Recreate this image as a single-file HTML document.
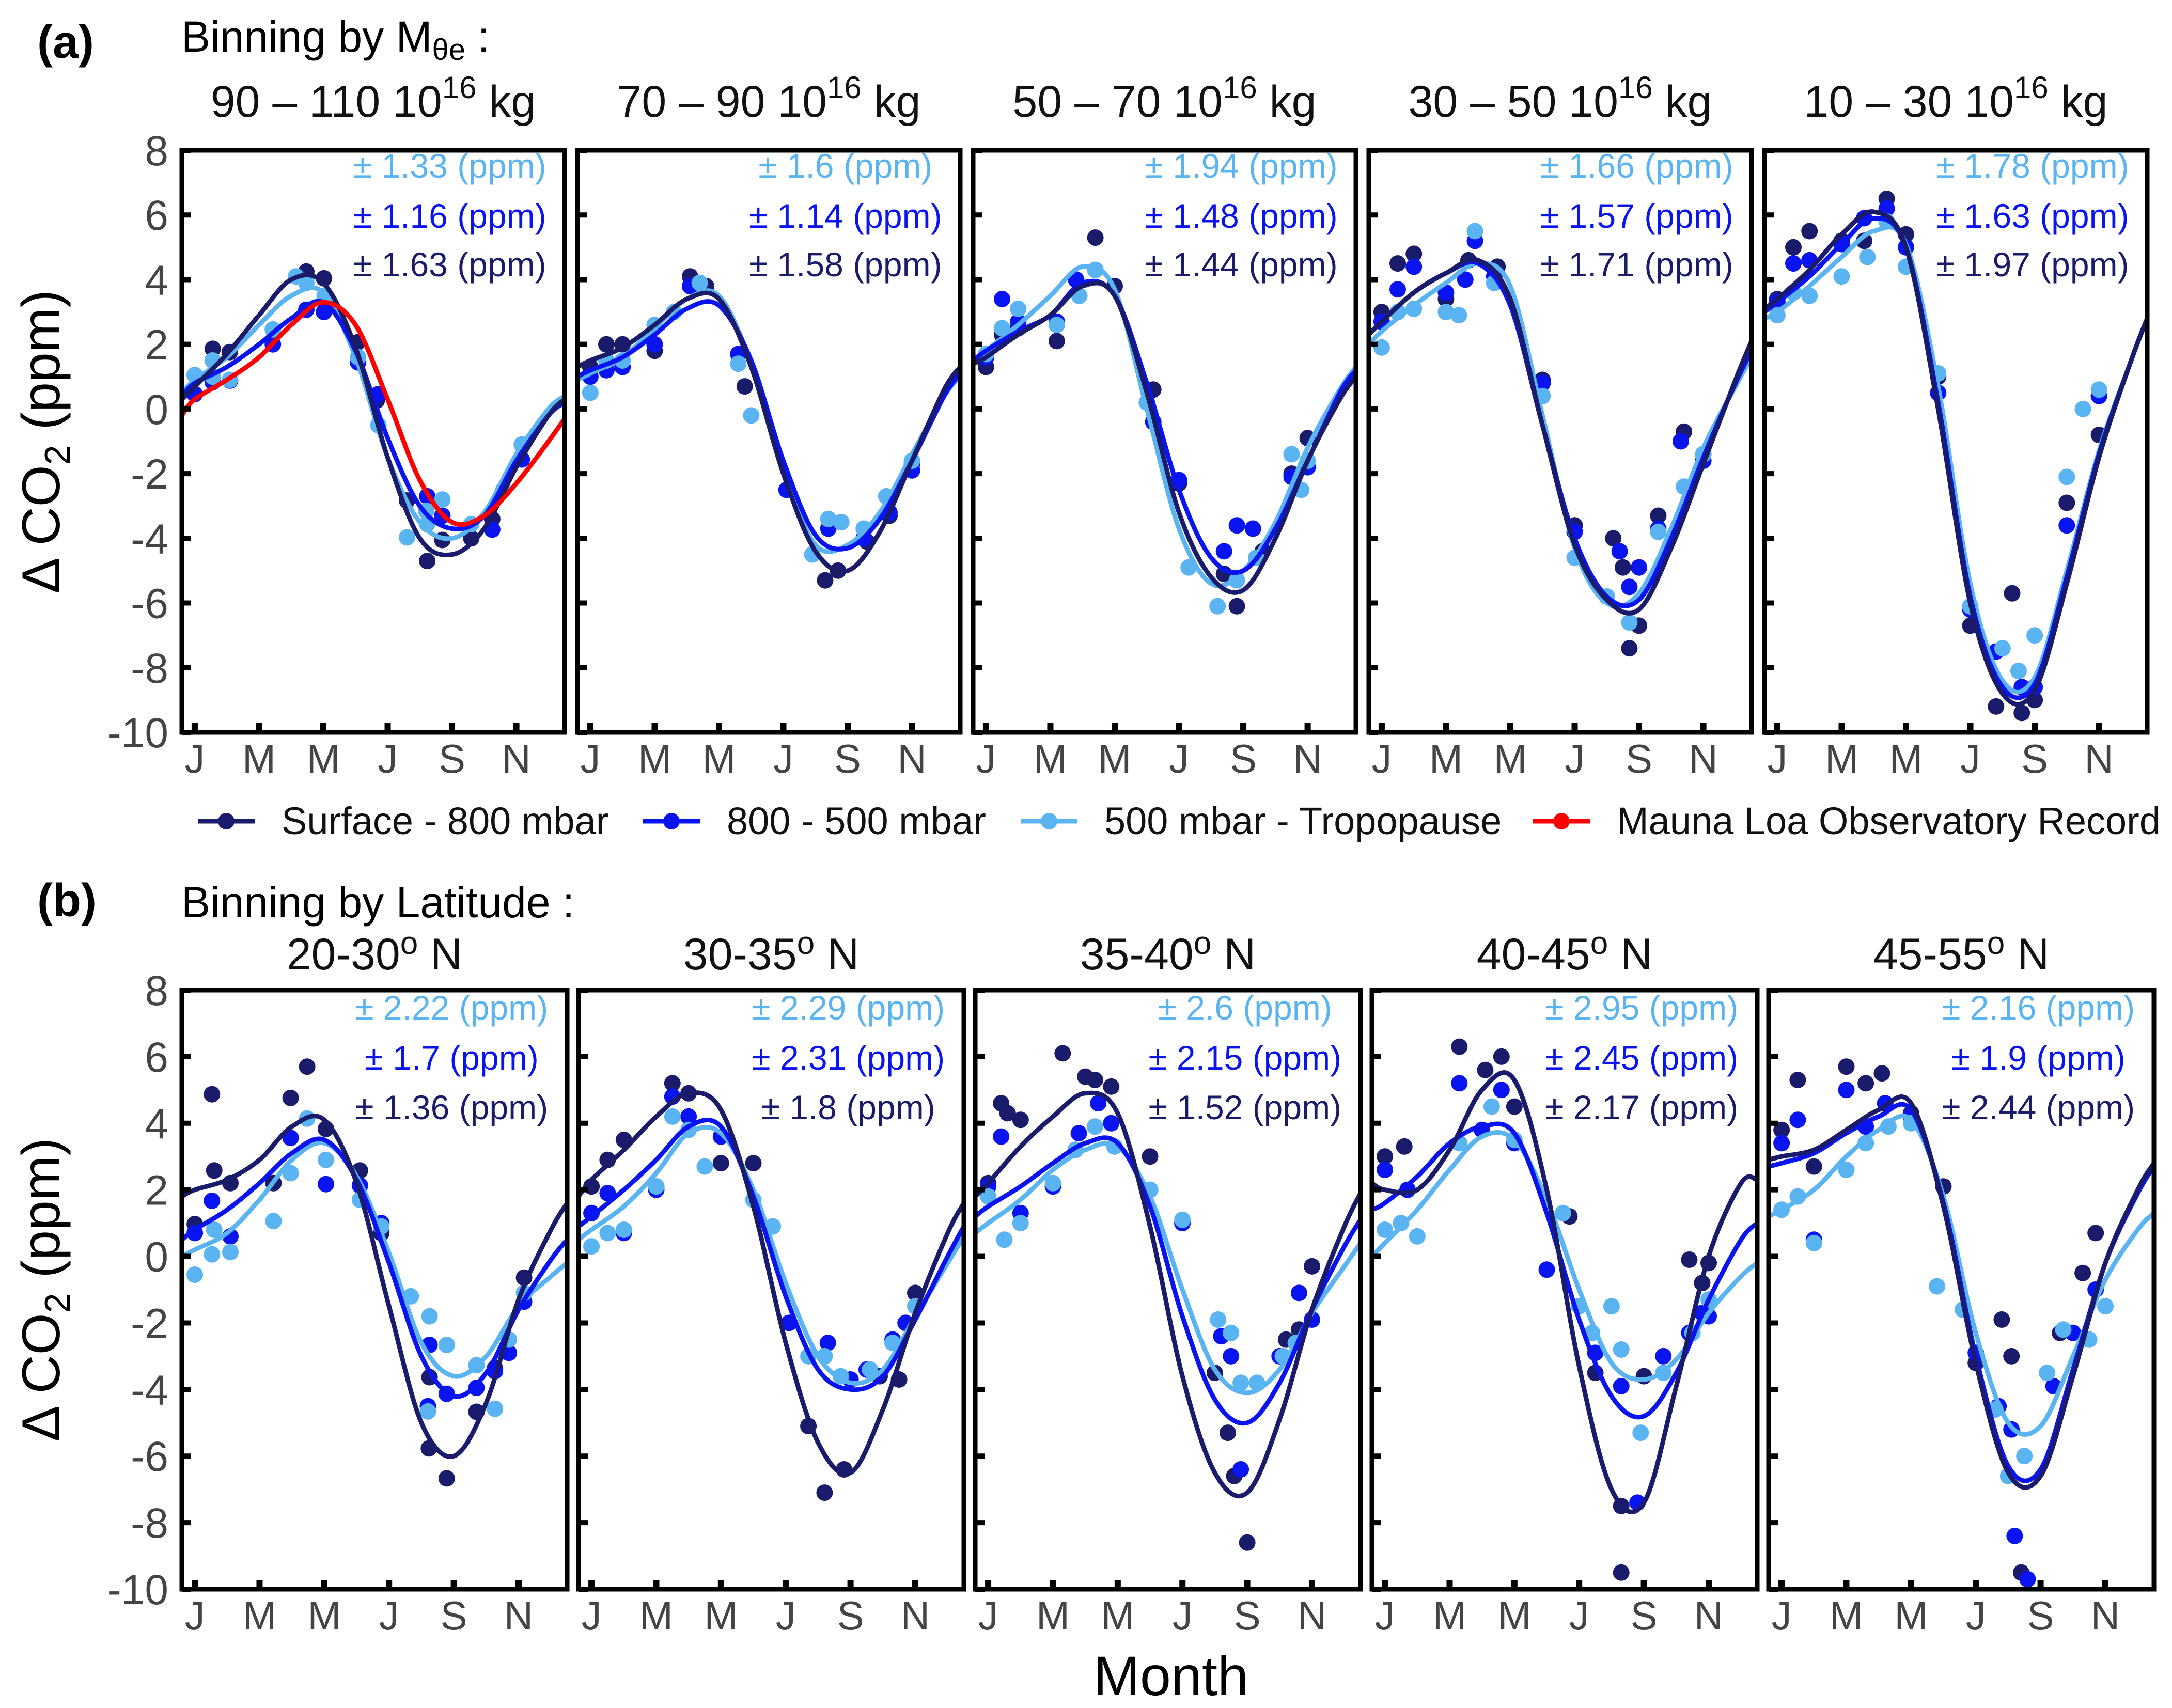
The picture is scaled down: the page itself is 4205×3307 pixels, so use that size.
<!DOCTYPE html>
<html><head><meta charset="utf-8">
<style>
html,body{margin:0;padding:0;background:#fff;}
svg{display:block;font-family:"Liberation Sans",Arial,sans-serif;}
</style></head>
<body>
<svg id="chart" width="4205" height="3307" viewBox="0 0 4205 3307" xmlns="http://www.w3.org/2000/svg">
<rect x="0" y="0" width="4205" height="3307" fill="#fff"/>
<g id="texts">
<text x="72" y="112" font-size="90" font-weight="bold" fill="#000">(a)</text>
<text x="351" y="100" font-size="84" fill="#000">Binning by M<tspan font-size="58" dy="16">θe</tspan><tspan dy="-16"> :</tspan></text>
<text x="72" y="1774" font-size="90" font-weight="bold" fill="#000">(b)</text>
<text x="351" y="1776" font-size="84" fill="#000">Binning by Latitude :</text>
<text transform="translate(115,855) rotate(-90)" text-anchor="middle" font-size="104" fill="#000">Δ CO<tspan font-size="70" dy="20">2</tspan><tspan dy="-20"> (ppm)</tspan></text>
<text transform="translate(115,2497) rotate(-90)" text-anchor="middle" font-size="104" fill="#000">Δ CO<tspan font-size="70" dy="20">2</tspan><tspan dy="-20"> (ppm)</tspan></text>
<text x="2267" y="3282" text-anchor="middle" font-size="108" fill="#000">Month</text>
</g>
<g id="legend"></g>
<g id="panels"></g>
</svg>
<script>
// ---------- data ----------
const curveMonths = [0.6,1,2,3,4,5,6,7,8,9,10,11,12,12.5];
const monthTicks = [1,3,5,7,9,11];
const monthLabels = ["J","M","M","J","S","N"];
const yTicks = [8,6,4,2,0,-2,-4,-6,-8,-10];
const seriesNames = ["Surface - 800 mbar","800 - 500 mbar","500 mbar - Tropopause","Mauna Loa Observatory Record"];
const titlesA = ["90 – 110","70 – 90","50 – 70","30 – 50","10 – 30"];
const titlesB = ["20-30","30-35","35-40","40-45","45-55"];
// uncertainties: [light, blue, dark]
const errA = [[1.33,1.16,1.63],[1.6,1.14,1.58],[1.94,1.48,1.44],[1.66,1.57,1.71],[1.78,1.63,1.97]];
const errB = [[2.22,1.7,1.36],[2.29,2.31,1.8],[2.6,2.15,1.52],[2.95,2.45,2.17],[2.16,1.9,2.44]];

// curves (values at curveMonths): dark, blue, light
const a1Dark  = [0.3,0.7,1.7,2.9,4.0,3.9,1.9,-1.5,-4.0,-4.5,-3.7,-1.8,-0.2,0.3];
const a1Blue  = [0.4,0.8,1.3,2.0,2.8,3.3,1.8,-0.9,-3.0,-3.7,-3.3,-1.6,-0.2,0.2];
const a1Light = [0.5,0.9,1.6,2.6,3.5,3.6,1.6,-1.5,-3.5,-4.0,-3.2,-1.4,0.0,0.4];
const a1Red   = [-0.2,0.3,0.9,1.6,2.6,3.3,2.6,0.3,-2.2,-3.5,-3.3,-2.3,-1.0,-0.3];
const a2Dark  = [1.3,1.5,1.9,2.6,3.4,3.4,1.3,-2.0,-4.4,-5.0,-3.8,-1.6,0.6,1.3];
const a2Blue  = [1.0,1.2,1.6,2.3,3.1,3.2,1.5,-1.6,-3.9,-4.3,-3.4,-1.6,0.4,1.1];
const a2Light = [0.9,1.1,1.6,2.5,3.4,3.5,1.4,-1.9,-4.2,-4.2,-3.2,-1.4,0.4,1.0];
const a3Dark  = [1.4,1.6,2.3,2.9,3.8,3.5,0.5,-3.2,-5.2,-5.6,-4.0,-1.6,0.3,1.0];
const a3Blue  = [1.5,1.8,2.4,2.9,3.9,3.5,0.8,-2.5,-4.6,-5.0,-3.7,-1.6,0.5,1.2];
const a3Light = [1.5,1.8,2.6,3.5,4.4,3.7,0.0,-3.7,-5.4,-5.0,-3.5,-1.2,0.6,1.3];
const a4Dark  = [2.3,2.7,3.6,4.2,4.6,3.4,-0.5,-4.2,-5.9,-6.2,-4.3,-1.7,0.9,2.1];
const a4Blue  = [2.3,2.7,3.6,4.2,4.5,3.2,-0.5,-4.0,-5.8,-5.9,-4.0,-1.5,0.8,1.8];
const a4Light = [2.0,2.4,3.2,3.9,4.5,3.8,-0.2,-4.3,-6.0,-5.7,-3.7,-1.2,0.7,1.6];
const a5Dark  = [3.1,3.4,4.3,5.4,6.1,5.0,0.0,-6.0,-8.8,-8.7,-5.4,-1.5,1.5,2.8];
const a5Blue  = [3.0,3.3,4.1,5.1,5.9,5.0,0.2,-5.8,-8.6,-8.5,-5.2,-1.4,1.5,2.8];
const a5Light = [2.8,3.0,3.8,4.7,5.5,5.1,0.7,-5.4,-8.4,-8.3,-5.0,-1.3,1.5,2.8];
const b1Dark  = [1.8,2.0,2.3,2.9,3.9,4.1,2.2,-1.5,-5.0,-6.0,-4.4,-1.3,0.8,1.6];
const b1Blue  = [0.5,0.8,1.4,2.2,3.1,3.5,2.3,-0.2,-3.0,-4.2,-3.5,-1.6,-0.1,0.5];
const b1Light = [0.0,0.2,0.7,1.7,2.9,3.4,2.4,0.1,-2.6,-3.6,-3.0,-1.5,-0.6,-0.2];
const b2Dark  = [1.8,2.3,3.2,4.2,4.9,4.4,1.5,-2.6,-5.6,-6.5,-4.6,-1.7,0.7,1.6];
const b2Blue  = [0.9,1.2,2.0,2.9,3.9,3.9,1.8,-1.2,-3.4,-4.0,-3.6,-1.9,0.0,0.9];
const b2Light = [0.5,0.8,1.5,2.5,3.7,3.7,2.0,-0.8,-3.0,-3.8,-3.4,-1.8,-0.2,0.6];
const b3Dark  = [1.8,2.2,3.3,4.2,4.9,4.3,0.9,-3.6,-6.5,-7.1,-4.9,-1.6,0.9,1.9];
const b3Blue  = [1.2,1.5,2.1,2.8,3.4,3.4,1.5,-1.8,-4.3,-5.0,-3.8,-1.6,0.3,1.1];
const b3Light = [0.7,1.0,1.7,2.6,3.2,3.3,1.8,-1.0,-3.4,-4.1,-3.4,-1.7,-0.3,0.4];
const b4Dark  = [2.2,2.0,2.0,3.2,5.0,5.3,2.0,-3.3,-7.0,-7.4,-3.9,0.0,2.2,2.3];
const b4Blue  = [1.4,1.6,2.4,3.4,3.9,3.7,1.3,-1.9,-4.2,-4.8,-3.5,-1.3,0.5,1.0];
const b4Light = [0.0,0.4,1.4,2.6,3.6,3.5,1.7,-1.0,-3.2,-3.7,-3.1,-1.7,-0.6,-0.2];
const b5Dark  = [2.9,3.0,3.2,3.8,4.4,4.6,1.5,-3.2,-6.5,-6.6,-3.6,-0.2,2.0,2.8];
const b5Blue  = [2.7,2.8,3.1,3.7,4.2,4.4,1.6,-3.0,-6.3,-6.4,-3.4,-0.2,1.9,2.7];
const b5Light = [1.2,1.4,2.0,3.0,3.8,4.1,1.8,-2.3,-5.0,-5.1,-3.0,-0.7,0.8,1.3];

// points: [month, value]
const a1DarkPts  = [[1.56,1.86],[2.09,1.76],[4.47,4.25],[5.02,4.04],[6.06,2.06],[6.66,0.26],[7.6,-2.83],[8.23,-4.7],[8.7,-4.05],[9.6,-4.0],[10.25,-3.4]];
const a1BluePts  = [[1.0,0.46],[1.56,0.83],[2.1,0.88],[3.43,2.0],[4.47,3.07],[5.02,3.0],[6.08,1.44],[6.71,0.46],[8.23,-2.7],[8.7,-3.3],[10.25,-3.73],[11.17,-1.56]];
const a1LightPts = [[1.0,1.05],[1.56,1.5],[1.56,1.0],[2.09,0.9],[3.43,2.46],[4.15,4.1],[4.47,3.9],[5.04,3.5],[6.08,1.6],[6.71,-0.5],[7.6,-3.97],[8.2,-3.15],[8.23,-3.56],[8.7,-2.8],[9.6,-3.56],[10.6,-2.5],[11.17,-1.1]];
const a2DarkPts  = [[1.0,1.3],[1.5,2.0],[2.0,2.0],[3.0,1.8],[4.1,4.1],[4.6,3.8],[5.8,0.7],[8.3,-5.3],[8.7,-5.0],[9.6,-4.1],[10.3,-3.3],[11.0,-1.7]];
const a2BluePts  = [[1.0,1.0],[1.5,1.2],[2.0,1.3],[3.0,2.0],[4.1,3.8],[5.6,1.7],[7.1,-2.5],[8.4,-3.7],[8.8,-3.5],[9.5,-4.0],[10.3,-3.2],[11.0,-1.9]];
const a2LightPts = [[1.0,0.5],[1.5,1.5],[2.0,1.5],[3.0,2.6],[3.6,3.0],[4.4,3.9],[5.6,1.4],[6.0,-0.2],[7.9,-4.5],[8.4,-3.4],[8.8,-3.5],[9.5,-3.7],[10.2,-2.7],[11.0,-1.6]];
const a3DarkPts  = [[1.0,1.3],[1.5,2.3],[2.0,2.5],[3.2,2.1],[3.8,4.0],[4.4,5.3],[5.0,3.8],[6.2,0.6],[7.0,-2.3],[8.4,-5.1],[8.8,-6.1],[9.6,-4.4],[10.5,-2.0],[11.0,-0.9]];
const a3BluePts  = [[1.0,1.6],[1.5,3.4],[2.0,2.7],[3.2,2.7],[3.8,4.0],[4.4,4.3],[6.2,-0.4],[7.0,-2.2],[8.4,-4.4],[8.8,-3.6],[9.3,-3.7],[10.5,-2.1],[11.0,-1.8]];
const a3LightPts = [[1.0,1.7],[1.5,2.5],[2.0,3.1],[3.2,2.6],[3.9,3.5],[4.4,4.3],[6.0,0.2],[7.3,-4.9],[8.2,-6.1],[8.8,-5.3],[9.4,-4.6],[10.5,-1.4],[10.8,-2.5],[11.0,-1.6]];
const a4DarkPts  = [[1.0,3.0],[1.5,4.5],[2.0,4.8],[3.0,3.4],[3.7,4.6],[4.6,4.4],[6.0,0.9],[7.0,-3.6],[8.2,-4.0],[8.5,-4.9],[8.7,-7.4],[9.0,-6.7],[9.6,-3.3],[10.4,-0.7],[11.0,-1.4]];
const a4BluePts  = [[1.0,2.7],[1.5,3.7],[2.0,4.4],[3.0,3.6],[3.6,4.0],[3.9,5.2],[4.5,4.1],[6.0,0.8],[7.0,-3.8],[8.4,-4.4],[8.7,-5.5],[9.0,-4.9],[9.6,-3.7],[10.3,-1.0],[11.0,-1.6]];
const a4LightPts = [[1.0,1.9],[1.5,3.0],[2.0,3.1],[3.0,3.0],[3.4,2.9],[3.9,5.5],[4.5,3.9],[6.0,0.4],[7.0,-4.6],[8.0,-5.8],[8.7,-6.6],[9.6,-3.8],[10.4,-2.4],[11.0,-1.4]];
const a5DarkPts  = [[1.0,3.4],[1.5,5.0],[2.0,5.5],[3.0,5.2],[3.7,5.2],[4.4,6.5],[5.0,5.4],[6.0,1.0],[7.0,-6.7],[7.8,-9.2],[8.3,-5.7],[8.6,-9.4],[9.0,-9.0],[10.0,-2.9],[11.0,-0.8]];
const a5BluePts  = [[1.0,3.3],[1.5,4.5],[2.0,4.6],[3.0,5.1],[3.7,5.9],[4.4,6.2],[5.0,5.0],[6.0,0.5],[7.0,-6.2],[7.8,-7.5],[8.6,-8.6],[9.0,-8.6],[10.0,-3.6],[11.0,0.4]];
const a5LightPts = [[1.0,2.9],[1.5,3.6],[2.0,3.5],[3.0,4.1],[3.8,4.7],[4.4,5.8],[5.0,4.4],[6.0,1.1],[7.0,-6.1],[8.0,-7.4],[8.5,-8.1],[9.0,-7.0],[10.0,-2.1],[10.5,0.0],[11.0,0.6]];
const b1DarkPts  = [[1.0,0.97],[1.53,4.87],[1.6,2.58],[2.1,2.2],[3.43,2.2],[3.96,4.76],[4.47,5.7],[5.05,3.83],[6.1,2.58],[6.76,0.7],[8.25,-3.63],[8.23,-5.77],[8.78,-6.67],[9.7,-4.67],[10.27,-3.36],[11.17,-0.64]];
const b1BluePts  = [[1.0,0.7],[1.53,1.67],[2.1,0.6],[3.96,3.56],[5.05,2.17],[6.1,2.13],[6.76,1.0],[8.25,-2.66],[8.2,-4.5],[8.78,-4.13],[9.7,-3.95],[10.27,-3.45],[10.7,-2.9],[11.17,-1.36]];
const b1LightPts = [[1.0,-0.55],[1.53,0.06],[1.6,0.8],[2.1,0.13],[3.43,1.06],[3.96,2.5],[4.47,4.14],[5.05,2.9],[6.1,1.7],[6.76,0.9],[7.67,-1.2],[8.25,-1.8],[8.78,-2.66],[8.2,-4.66],[9.7,-3.27],[10.27,-4.58],[10.7,-2.5],[11.17,-1.1]];
const b2DarkPts  = [[1.0,2.1],[1.5,2.9],[2.0,3.5],[3.0,2.1],[3.5,5.2],[4.0,4.9],[5.0,2.8],[6.0,2.8],[7.7,-5.1],[8.2,-7.1],[8.8,-6.4],[9.9,-3.6],[10.5,-3.7],[11.0,-1.1]];
const b2BluePts  = [[1.0,1.3],[1.5,1.9],[2.0,0.7],[3.0,2.0],[3.5,4.8],[4.0,4.2],[5.0,3.6],[7.1,-2.0],[8.3,-2.6],[9.0,-3.7],[9.5,-3.4],[10.3,-2.5],[10.7,-2.0]];
const b2LightPts = [[1.0,0.3],[1.5,0.7],[2.0,0.8],[3.0,2.1],[3.5,4.2],[4.0,3.8],[4.5,2.7],[6.0,1.7],[6.6,0.9],[7.7,-3.0],[8.2,-3.0],[8.7,-3.6],[9.6,-3.4],[10.3,-2.6],[11.0,-1.5]];
const b3DarkPts  = [[1.0,2.2],[1.4,4.6],[1.6,4.3],[2.0,4.1],[3.3,6.1],[4.0,5.4],[4.3,5.3],[4.8,5.1],[6.0,3.0],[7.0,1.0],[8.0,-3.5],[8.4,-5.3],[8.6,-6.6],[9.0,-8.6],[10.2,-2.5],[10.6,-2.2],[11.0,-0.3]];
const b3BluePts  = [[1.0,2.1],[1.4,3.6],[2.0,1.3],[3.0,2.1],[3.8,3.7],[4.4,4.6],[4.8,4.0],[6.0,2.0],[7.0,1.0],[8.2,-2.4],[8.5,-3.0],[8.8,-6.4],[10.0,-3.0],[10.6,-1.1],[11.0,-1.9]];
const b3LightPts = [[1.0,1.8],[1.5,0.5],[2.0,1.0],[3.0,2.2],[3.7,3.2],[4.3,3.9],[4.9,3.3],[6.0,2.0],[7.0,1.1],[8.1,-1.9],[8.5,-2.3],[8.8,-3.8],[9.3,-3.8],[10.1,-3.0],[10.5,-2.6]];
const b4DarkPts  = [[1.0,3.0],[1.6,3.3],[3.3,6.3],[4.1,5.6],[4.6,6.0],[5.0,4.5],[6.7,1.2],[7.5,-3.5],[8.3,-7.5],[8.3,-9.5],[9.0,-3.6],[10.4,-0.1],[10.8,-0.8],[11.0,-0.2]];
const b4BluePts  = [[1.0,2.6],[1.7,2.0],[3.3,5.2],[4.0,3.8],[4.6,5.0],[5.0,3.4],[6.0,-0.4],[7.5,-2.9],[8.3,-3.9],[8.8,-7.4],[9.6,-3.0],[10.4,-2.3],[10.8,-1.7],[11.0,-1.8]];
const b4LightPts = [[1.0,0.8],[1.5,1.0],[2.0,0.6],[3.3,3.4],[4.3,4.5],[5.0,3.5],[6.5,1.3],[7.0,-1.5],[7.4,-2.3],[8.0,-1.5],[8.3,-2.8],[8.9,-5.3],[9.6,-3.5],[10.5,-2.3],[11.0,-1.3]];
const b5DarkPts  = [[1.0,3.8],[1.5,5.3],[2.0,2.7],[3.0,5.7],[3.6,5.2],[4.1,5.5],[5.0,4.3],[6.0,2.1],[7.0,-3.2],[7.8,-1.9],[8.1,-3.0],[8.4,-9.5],[9.6,-2.3],[10.3,-0.5],[10.7,0.7]];
const b5BluePts  = [[1.0,3.4],[1.5,4.1],[2.0,0.5],[3.0,5.0],[3.6,3.9],[4.2,4.6],[5.0,4.2],[7.0,-2.9],[7.7,-4.5],[8.1,-5.2],[8.2,-8.4],[8.6,-9.7],[9.4,-3.9],[10.0,-2.3],[10.7,-1.0]];
const b5LightPts = [[1.0,1.4],[1.5,1.8],[2.0,0.4],[3.0,2.6],[3.6,3.4],[4.3,3.9],[5.0,4.0],[5.8,-0.9],[6.6,-1.6],[7.6,-4.6],[8.0,-6.6],[8.5,-6.0],[9.2,-3.5],[9.7,-2.2],[10.5,-2.5],[11.0,-1.5]];

const curvesA = [[a1Dark,a1Blue,a1Light],[a2Dark,a2Blue,a2Light],[a3Dark,a3Blue,a3Light],[a4Dark,a4Blue,a4Light],[a5Dark,a5Blue,a5Light]];
const curvesB = [[b1Dark,b1Blue,b1Light],[b2Dark,b2Blue,b2Light],[b3Dark,b3Blue,b3Light],[b4Dark,b4Blue,b4Light],[b5Dark,b5Blue,b5Light]];
const ptsA = [[a1DarkPts,a1BluePts,a1LightPts],[a2DarkPts,a2BluePts,a2LightPts],[a3DarkPts,a3BluePts,a3LightPts],[a4DarkPts,a4BluePts,a4LightPts],[a5DarkPts,a5BluePts,a5LightPts]];
const ptsB = [[b1DarkPts,b1BluePts,b1LightPts],[b2DarkPts,b2BluePts,b2LightPts],[b3DarkPts,b3BluePts,b3LightPts],[b4DarkPts,b4BluePts,b4LightPts],[b5DarkPts,b5BluePts,b5LightPts]];

// ---------- rendering ----------
const NS = "http://www.w3.org/2000/svg";
const COLORS = ["#1b1b6b","#0a14f0","#5ab4f2","#ff0000"];
const XMIN = 0.6, XMAX = 12.5, YMIN = -10, YMAX = 8;
function mk(tag, attrs, parent){
  const e = document.createElementNS(NS, tag);
  for (const k in attrs) e.setAttribute(k, attrs[k]);
  if (parent) parent.appendChild(e);
  return e;
}
function smoothPath(pts){
  let d = "M" + pts[0][0].toFixed(1) + "," + pts[0][1].toFixed(1);
  for (let i = 0; i < pts.length - 1; i++){
    const p0 = pts[Math.max(0,i-1)], p1 = pts[i], p2 = pts[i+1], p3 = pts[Math.min(pts.length-1,i+2)];
    const c1x = p1[0] + (p2[0]-p0[0])/6, c1y = p1[1] + (p2[1]-p0[1])/6;
    const c2x = p2[0] - (p3[0]-p1[0])/6, c2y = p2[1] - (p3[1]-p1[1])/6;
    d += " C" + c1x.toFixed(1)+","+c1y.toFixed(1)+" "+c2x.toFixed(1)+","+c2y.toFixed(1)+" "+p2[0].toFixed(1)+","+p2[1].toFixed(1);
  }
  return d;
}
const panelsG = document.getElementById("panels");
let clipId = 0;
function drawPanel(row, i, left, top, w, h, title, errs, curves, pts, red){
  const g = mk("g", {}, panelsG);
  
  
  const sx = m => left + (m - XMIN) / (XMAX - XMIN) * w;
  const sy = v => top + (YMAX - v) / (YMAX - YMIN) * h;
  const t = mk("text", {x: left + w/2, y: row === "a" ? 226 : 1877, "text-anchor":"middle", "font-size":86, fill:"#111"}, g);
  
  
  if (row === "a"){
    t.textContent = title + " 10";
    mk("tspan", {"font-size":60, dy:-36}, t).textContent = "16";
    mk("tspan", {dy:36}, t).textContent = " kg";
  } else {
    t.textContent = title;
    mk("tspan", {"font-size":62, dy:-30}, t).textContent = "o";
    mk("tspan", {dy:30}, t).textContent = " N";
  }
  const cid = "clip" + (clipId++);
  const cp = mk("clipPath", {id:cid}, g);
  mk("rect", {x:left, y:top, width:w, height:h}, cp);
  const plot = mk("g", {"clip-path":"url(#"+cid+")"}, g);
  for (let s = 0; s < 3; s++){
    for (const p of pts[s]){
      const c = mk("circle", {cx:sx(p[0]).toFixed(1), cy:sy(p[1]).toFixed(1), r:16, fill:COLORS[s]}, plot);
      
      
    }
  }
  const allCurves = red ? [[2,curves[2]],[1,curves[1]],[0,curves[0]],[3,red]] : [[2,curves[2]],[1,curves[1]],[0,curves[0]]];
  for (const [s, arr] of allCurves){
    const pp = curveMonths.map((m,k) => [sx(m), sy(arr[k])]);
    const path = mk("path", {d: smoothPath(pp), fill:"none", stroke:COLORS[s], "stroke-width":9, "stroke-linejoin":"round"}, plot);
    
    
  }
  const fr = mk("rect", {x:left, y:top, width:w, height:h, fill:"none", stroke:"#000", "stroke-width":9}, g);
  
  
  for (const v of yTicks){
    mk("line", {x1:left, x2:left+18, y1:sy(v), y2:sy(v), stroke:"#000", "stroke-width":10}, g);
    if (i === 0){
      const yl = mk("text", {x:left-26, y:sy(v)+29, "text-anchor":"end", "font-size":82, fill:"#444"}, g);
      
      
      yl.textContent = v;
    }
  }
  monthTicks.forEach((m, k) => {
    mk("line", {x1:sx(m), x2:sx(m), y1:top+h, y2:top+h-18, stroke:"#000", "stroke-width":12}, g);
    const xl = mk("text", {x:sx(m), y:top+h+78, "text-anchor":"middle", "font-size":78, fill:"#444"}, g);
    
    
    xl.textContent = monthLabels[k];
  });
  const off = row === "a" ? [53,150,244] : [57,154,250];
  const cols = [COLORS[2], COLORS[1], COLORS[0]];
  errs.forEach((e, k) => {
    const et = mk("text", {x:left + w*0.7, y:top+off[k], "text-anchor":"middle", "font-size":66, fill:cols[k]}, g);
    
    
    et.textContent = "± " + e + " (ppm)";
  });
}
for (let i = 0; i < 5; i++){
  drawPanel("a", i, 352 + i*766, 291, 741, 1127, titlesA[i], errA[i], curvesA[i], ptsA[i], i === 0 ? a1Red : null);
  drawPanel("b", i, 352 + i*768, 1917, 746, 1160, titlesB[i], errB[i], curvesB[i], ptsB[i], null);
}
const lg = document.getElementById("legend");
const legX = [383, 1245, 1976, 2968];
seriesNames.forEach((name, k) => {
  const e = mk("g", {}, lg);
  
  
  mk("line", {x1:legX[k], x2:legX[k]+110, y1:1590, y2:1590, stroke:COLORS[k], "stroke-width":9}, e);
  mk("circle", {cx:legX[k]+55, cy:1590, r:16, fill:COLORS[k]}, e);
  const tx = mk("text", {x:legX[k]+162, y:1615, "font-size":74, fill:"#111"}, e);
  tx.textContent = name;
});
</script>
</body></html>
